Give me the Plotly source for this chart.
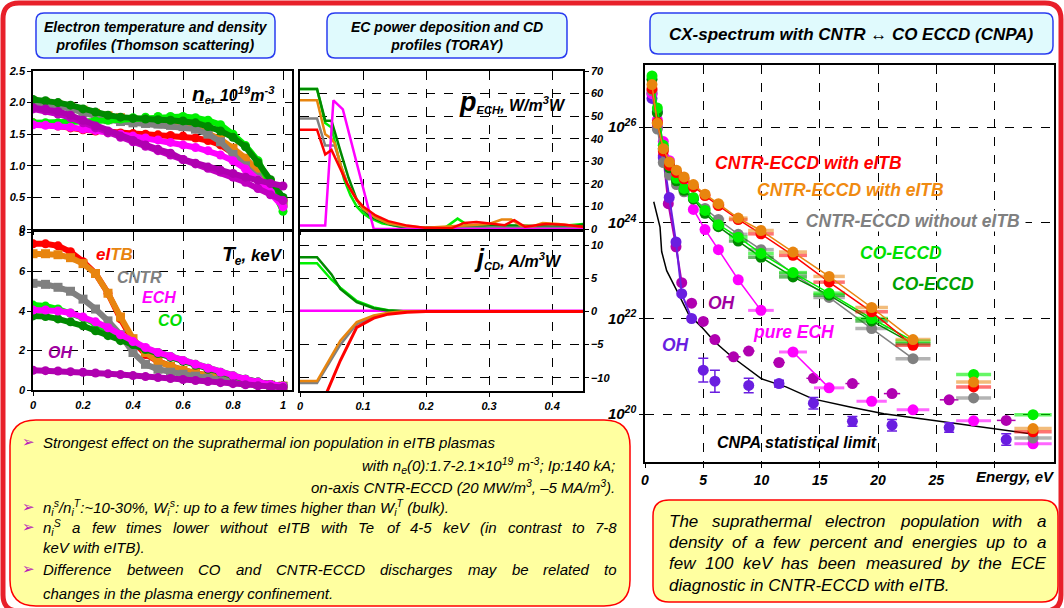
import plotly.graph_objects as go

W, H = 1064, 608
FONT = "Liberation Sans, Arial, sans-serif"

# ---------------- data: Thomson profiles ----------------
rho = [0.0, 0.05, 0.1, 0.15, 0.2, 0.25, 0.3, 0.35, 0.4, 0.45, 0.5,
       0.55, 0.6, 0.65, 0.7, 0.75, 0.8, 0.85, 0.9, 0.95, 1.0]

ne_red = [1.68, 1.66, 1.63, 1.6, 1.57, 1.55, 1.53, 1.52, 1.51, 1.5, 1.49, 1.48, 1.47, 1.44, 1.4, 1.33, 1.2, 1.05, 0.85, 0.62, 0.45]
ne_orange = [2.02, 2.0, 1.97, 1.93, 1.88, 1.83, 1.79, 1.76, 1.73, 1.71, 1.69, 1.67, 1.65, 1.6, 1.52, 1.42, 1.28, 1.12, 0.92, 0.68, 0.42]
ne_gray = [2.0, 1.98, 1.95, 1.9, 1.84, 1.78, 1.73, 1.7, 1.68, 1.67, 1.66, 1.64, 1.62, 1.58, 1.5, 1.38, 1.18, 1.0, 0.82, 0.62, 0.4]
ne_lime = [1.68, 1.68, 1.68, 1.69, 1.7, 1.71, 1.72, 1.74, 1.76, 1.77, 1.78, 1.78, 1.78, 1.76, 1.72, 1.65, 1.5, 1.32, 1.08, 0.7, 0.28]
ne_dgreen = [2.05, 2.03, 2.0, 1.96, 1.9, 1.85, 1.8, 1.77, 1.75, 1.74, 1.73, 1.72, 1.71, 1.68, 1.62, 1.55, 1.45, 1.3, 1.05, 0.78, 0.5]
ne_magenta = [1.65, 1.64, 1.63, 1.61, 1.58, 1.56, 1.53, 1.5, 1.47, 1.44, 1.41, 1.37, 1.33, 1.29, 1.24, 1.17, 1.08, 0.95, 0.78, 0.58, 0.35]
ne_purple1 = [1.92, 1.9, 1.86, 1.8, 1.72, 1.63, 1.55, 1.47, 1.4, 1.33, 1.26, 1.2, 1.1, 1.04, 0.98, 0.93, 0.88, 0.82, 0.77, 0.72, 0.68]
ne_purple2 = [1.9, 1.87, 1.82, 1.76, 1.68, 1.6, 1.52, 1.45, 1.38, 1.31, 1.24, 1.17, 1.1, 1.03, 0.96, 0.9, 0.82, 0.74, 0.64, 0.54, 0.45]

te_red = [7.4, 7.4, 7.3, 7.0, 6.5, 5.9, 4.9, 3.6, 2.5, 1.8, 1.45, 1.2, 1.0, 0.85, 0.72, 0.6, 0.5, 0.4, 0.32, 0.25, 0.2]
te_orange = [6.9, 6.9, 6.85, 6.7, 6.4, 5.9, 4.9, 3.7, 2.6, 1.9, 1.45, 1.2, 1.0, 0.85, 0.72, 0.6, 0.5, 0.4, 0.32, 0.25, 0.2]
te_gray = [5.4, 5.35, 5.2, 5.0, 4.6, 4.1, 3.5, 2.8, 1.9, 1.3, 1.05, 0.9, 0.8, 0.7, 0.6, 0.5, 0.42, 0.35, 0.28, 0.22, 0.18]
te_lime = [4.3, 4.25, 4.1, 3.9, 3.65, 3.35, 3.0, 2.65, 2.35, 2.1, 1.9, 1.7, 1.5, 1.3, 1.1, 0.9, 0.72, 0.55, 0.4, 0.28, 0.2]
te_dgreen = [3.75, 3.72, 3.6, 3.45, 3.25, 3.0, 2.75, 2.5, 2.3, 2.05, 1.85, 1.65, 1.45, 1.25, 1.05, 0.88, 0.7, 0.55, 0.4, 0.28, 0.2]
te_magenta = [4.05, 4.05, 4.0, 3.9, 3.7, 3.45, 3.15, 2.8, 2.45, 2.15, 1.9, 1.7, 1.5, 1.3, 1.1, 0.9, 0.72, 0.55, 0.4, 0.28, 0.2]
te_oh = [1.0, 0.98, 0.96, 0.93, 0.9, 0.86, 0.82, 0.78, 0.73, 0.68, 0.63, 0.58, 0.53, 0.48, 0.43, 0.37, 0.32, 0.26, 0.21, 0.17, 0.13]

# ---------------- data: TORAY ----------------
pe_rho_dg = [0, 0.027, 0.04, 0.05, 0.064, 0.077, 0.09, 0.1, 0.11, 0.122, 0.144, 0.16, 0.2, 0.25, 0.3, 0.35, 0.4, 0.43, 0.45]
pe_dg = [62, 62, 48, 48, 34.6, 22.7, 13, 8.6, 6, 4.2, 2, 1, 0.5, 0.8, 1.5, 1.5, 1, 1, 2]
pe_rho_lime = [0, 0.027, 0.04, 0.05, 0.06, 0.07, 0.08, 0.09, 0.1, 0.11, 0.13, 0.16, 0.2, 0.23, 0.25, 0.27, 0.3, 0.33, 0.36, 0.4, 0.45]
pe_lime = [62, 62, 47, 45, 33, 22, 15, 10, 7, 5, 2.5, 1, 0.5, 0.5, 4.6, 1, 2, 1.5, 1, 1, 2.2]
pe_rho_or = [0, 0.027, 0.04, 0.05, 0.055, 0.065, 0.075, 0.09, 0.1, 0.12, 0.14, 0.17, 0.2, 0.25, 0.3, 0.32, 0.335, 0.35, 0.37, 0.385, 0.41, 0.45]
pe_or = [57, 57, 42, 40, 38, 28, 20, 13, 9, 5, 2.5, 1.2, 0.5, 1.2, 2.2, 4.2, 4.2, 1.5, 1.2, 2.7, 2.2, 0.9]
pe_rho_gr = [0, 0.027, 0.04, 0.055, 0.065, 0.075, 0.09, 0.1, 0.12, 0.14, 0.17, 0.2, 0.3, 0.45]
pe_gr = [49, 49, 37, 37, 28, 20, 13, 9, 5, 2.5, 1, 0.5, 0.5, 0.5]
pe_rho_red = [0, 0.027, 0.04, 0.05, 0.065, 0.075, 0.09, 0.1, 0.12, 0.14, 0.17, 0.2, 0.24, 0.26, 0.28, 0.31, 0.325, 0.34, 0.357, 0.39, 0.42, 0.45]
pe_red = [44, 44, 33, 35, 26, 20, 13, 10, 6, 3.5, 1.5, 0.5, 0.3, 2.7, 3.1, 2, 1.7, 3.9, 1, 2.2, 1.9, 1]
pe_rho_mag = [0, 0.04, 0.053, 0.068, 0.117, 0.45]
pe_mag = [1.5, 1.5, 57, 53, 0, 0]

jc_rho_g = [0, 0.027, 0.05, 0.064, 0.09, 0.117, 0.14, 0.17, 0.45]
jc_dg = [8.2, 8.2, 5.6, 3.4, 1.4, 0.5, 0.15, 0, 0]
jc_lime = [7.3, 7.3, 4.8, 3.6, 1.6, 0.6, 0.2, 0, 0]
jc_rho_or = [0, 0.027, 0.064, 0.09, 0.117, 0.14, 0.16, 0.45]
jc_or = [-10.5, -10.5, -4.4, -1.6, -0.6, -0.2, 0, 0]
jc_rho_gr = [0, 0.027, 0.064, 0.09, 0.117, 0.14, 0.17, 0.45]
jc_gr = [-10.8, -10.8, -5.0, -1.9, -0.8, -0.3, 0, 0]
jc_rho_red = [0.035, 0.043, 0.064, 0.09, 0.117, 0.14, 0.17, 0.2, 0.45]
jc_red = [-13, -12.1, -7.4, -2.4, -1.0, -0.4, -0.1, 0, 0]
jc_rho_mag = [0, 0.45]
jc_mag = [0.1, 0.1]

# ---------------- data: CX spectrum (log10 of flux) ----------------
cx_E = [0.6, 1.06, 1.57, 2.1, 2.7, 3.35, 4.15, 5.15, 6.3, 8.0, 9.95, 12.7, 15.8, 19.45, 23.0]
cx_dE = [0, 0, 0, 0, 0, 0, 0, 0, 0.5, 0.8, 1.1, 1.2, 1.35, 1.4, 1.5]
cx_E_far = [28.2, 33.3]
cx_dE_far = [1.5, 1.6]
red_log = [26.8, 26.1, 25.5, 25.2, 25.05, 24.92, 24.75, 24.57, 24.36, 24.07, 23.77, 23.32, 22.76, 22.14, 21.44]
red_far = [20.57, 19.63]
orange_log = [26.89, 26.08, 25.55, 25.27, 25.1, 24.96, 24.8, 24.6, 24.4, 24.1, 23.84, 23.39, 22.88, 22.23, 21.56]
orange_far = [20.67, 19.70]
gray_log = [26.76, 25.96, 25.26, 25.0, 24.8, 24.65, 24.5, 24.3, 24.07, 23.76, 23.44, 22.94, 22.44, 21.79, 21.16]
gray_far = [20.34, 19.5]
lime_log = [27.07, 26.4, 25.62, 25.2, 24.93, 24.72, 24.53, 24.26, 23.96, 23.7, 23.36, 22.96, 22.53, 22.0, 21.53]
lime_far = [20.83, 19.99]
dgreen_log = [27.0, 26.3, 25.55, 25.15, 24.88, 24.68, 24.5, 24.2, 23.92, 23.62, 23.28, 22.87, 22.49, 21.95, 21.47]

ech_E = [0.6, 1.06, 1.57, 2.1, 2.7, 3.35, 4.15, 5.15, 6.3, 8.0, 9.95, None, 12.7, 15.8]
ech_log = [26.7, 26.15, 25.7, 25.3, 25.0, 24.78, 24.28, 23.86, 23.44, 22.81, 22.17, None, 21.3, 20.55]
ech_dE = [0, 0, 0, 0, 0, 0, 0, 0, 0, 0, 1.1, 0, 1.2, 1.3]
ech_far_E = [19.45, 23.0, 28.2, 33.3]
ech_far_log = [20.27, 20.09, 19.86, 19.38]
ech_far_dE = [1.3, 1.4, 1.5, 1.6]

ohv_E = [0.6, 1.06, 1.57, 2.08, 2.66, 3.15, 4.0]
ohv_log = [26.6, 26.33, 25.36, 24.53, 23.6, 22.52, 22.0]
ohv2_E = [5.0, 6.0, 8.9, 11.5, 14.45, 17.8, 21.2, 26.1, 31.0]
ohv2_log = [20.92, 20.69, 20.6, 20.64, 20.23, 19.85, 19.77, 19.72, 19.47]
ohv2_dlog = [0.25, 0.23, 0.15, 0.07, 0.12, 0.1, 0.12, 0.1, 0.12]

ohp_E = [0.6, 1.06, 1.57, 2.0, 2.66, 3.15]
ohp_log = [26.7, 26.0, 25.4, 24.4, 23.5, 22.75]
ohp2_E = [4.0, 5.0, 6.0, 7.6, 8.9, 11.5, 14.45, 17.8, 21.2, 26.1, 31.0]
ohp2_log = [22.32, 21.94, 21.56, 21.2, 21.32, 21.08, 20.75, 20.64, 20.43, 20.3, 19.87]
ohp2_dE = [0, 0, 0, 0.6, 0.5, 0.5, 0.6, 0.6, 0.7, 0.8, 0.8]

cnpa_E = [0.75, 1.29, 1.43, 1.86, 2.72, 3.72, 4.86, 6.0, 7.4, 8.6, 10, 12.1, 14.4, 17.6, 20.5, 24.8, 29.1, 33.1]
cnpa_log = [24.44, 23.91, 23.4, 23.0, 22.59, 22.1, 21.82, 21.51, 21.21, 20.99, 20.74, 20.57, 20.32, 20.15, 20.01, 19.87, 19.73, 19.59]

# ---------------- colours ----------------
C_RED = "#ff0000"
C_OR = "#e8850f"
C_GR = "#808080"
C_LIME = "#00f000"
C_DG = "#008a00"
C_MAG = "#ff00ff"
C_PUR = "#b000b0"
C_VIO = "#6a1ee0"


def X(px):
    return px / W


def Y(py):
    return 1 - py / H


def pw(v):
    return [None if a is None else 10 ** a for a in v]


fig = go.Figure()


def add(x, y, xa, ya, color, width=2.5, marker=None, err_x=None, err_y=None, mode="lines"):
    kw = dict(x=x, y=y, xaxis=xa, yaxis=ya, mode=mode, showlegend=False,
              line=dict(color=color, width=width), hoverinfo="skip")
    if marker:
        kw["marker"] = marker
    if err_x is not None:
        kw["error_x"] = err_x
    if err_y is not None:
        kw["error_y"] = err_y
    fig.add_trace(go.Scatter(**kw))


# profiles
prof = [
    (ne_red, te_red, C_RED, "circle"),
    (ne_orange, te_orange, C_OR, "square"),
    (ne_gray, te_gray, C_GR, "square"),
    (ne_lime, te_lime, C_LIME, "circle"),
    (ne_dgreen, te_dgreen, C_DG, "circle"),
    (ne_magenta, te_magenta, C_MAG, "circle"),
]
for ne, te, c, s in prof:
    add(rho, ne, "x", "y", c, 6, dict(color=c, size=9, symbol=s), mode="lines+markers")
add(rho, ne_purple2, "x", "y", "#c000c0", 6, dict(color="#c000c0", size=9), mode="lines+markers")
add(rho, ne_purple1, "x", "y", C_PUR, 6, dict(color=C_PUR, size=9), mode="lines+markers")
for ne, te, c, s in prof:
    add(rho, te, "x2", "y2", c, 6, dict(color=c, size=9, symbol=s), mode="lines+markers")
add(rho, te_oh, "x2", "y2", C_PUR, 6, dict(color=C_PUR, size=9), mode="lines+markers")

# TORAY
add(pe_rho_lime, pe_lime, "x3", "y3", C_LIME)
add(pe_rho_dg, pe_dg, "x3", "y3", C_DG)
add(pe_rho_gr, pe_gr, "x3", "y3", C_GR)
add(pe_rho_or, pe_or, "x3", "y3", C_OR)
add(pe_rho_mag, pe_mag, "x3", "y3", C_MAG)
add(pe_rho_red, pe_red, "x3", "y3", C_RED)

add(jc_rho_mag, jc_mag, "x4", "y4", C_MAG)
add(jc_rho_g, jc_lime, "x4", "y4", C_LIME)
add(jc_rho_g, jc_dg, "x4", "y4", C_DG)
add(jc_rho_gr, jc_gr, "x4", "y4", C_GR)
add(jc_rho_or, jc_or, "x4", "y4", C_OR)
add(jc_rho_red, jc_red, "x4", "y4", C_RED, 3)

# CX spectrum
MS = 11
add(cnpa_E, pw(cnpa_log), "x5", "y5", "black", 1.5)
add(ohp_E, pw(ohp_log), "x5", "y5", C_PUR, 2, dict(color=C_PUR, size=MS), mode="lines+markers")
add(ohp2_E, pw(ohp2_log), "x5", "y5", C_PUR, 2, dict(color=C_PUR, size=MS), mode="markers",
    err_x=dict(type="data", array=ohp2_dE, color=C_PUR, thickness=1.5, width=0))
add(ohv_E, pw(ohv_log), "x5", "y5", C_VIO, 2, dict(color=C_VIO, size=MS), mode="lines+markers")
ohv_up = [10 ** (v + d) - 10 ** v for v, d in zip(ohv2_log, ohv2_dlog)]
ohv_dn = [10 ** v - 10 ** (v - d) for v, d in zip(ohv2_log, ohv2_dlog)]
add(ohv2_E, pw(ohv2_log), "x5", "y5", C_VIO, 2, dict(color=C_VIO, size=MS), mode="markers",
    err_y=dict(type="data", array=ohv_up, arrayminus=ohv_dn, color=C_VIO, thickness=1.5, width=5))
add(ech_E, pw(ech_log), "x5", "y5", C_MAG, 1.5, dict(color=C_MAG, size=MS), mode="lines+markers",
    err_x=dict(type="data", array=ech_dE, color="rgba(255,0,255,0.6)", thickness=3, width=0))
add(ech_far_E, pw(ech_far_log), "x5", "y5", C_MAG, 1.5, dict(color=C_MAG, size=MS), mode="markers",
    err_x=dict(type="data", array=ech_far_dE, color="rgba(255,0,255,0.6)", thickness=3, width=0))

main = [
    (gray_log, gray_far, C_GR, "rgba(128,128,128,0.6)"),
    (dgreen_log, None, C_DG, "rgba(0,138,0,0.6)"),
    (lime_log, lime_far, C_LIME, "rgba(0,240,0,0.6)"),
    (red_log, red_far, C_RED, "rgba(255,0,0,0.55)"),
    (orange_log, orange_far, C_OR, "rgba(232,133,15,0.55)"),
]
for lg, far, c, ce in main:
    add(cx_E, pw(lg), "x5", "y5", c, 1.5, dict(color=c, size=MS), mode="lines+markers",
        err_x=dict(type="data", array=cx_dE, color=ce, thickness=3.5, width=0))
    if far:
        add(cx_E_far, pw(far), "x5", "y5", c, 1.5, dict(color=c, size=MS), mode="markers",
            err_x=dict(type="data", array=cx_dE_far, color=ce, thickness=3.5, width=0))

# ---------------- axes ----------------
BOX = {
    "1": (33, 292, 71, 229),
    "2": (33, 292, 232, 390),
    "3": (300, 583, 71, 229),
    "4": (300, 583, 232, 391),
    "5": (645, 1054, 65, 462),
}


def dx(k):
    b = BOX[k]
    return [b[0] / W, b[1] / W]


def dy(k):
    b = BOX[k]
    return [1 - b[3] / H, 1 - b[2] / H]


def axs(size=11, **kw):
    d = dict(showline=True, mirror=True, linecolor="black", linewidth=1.5,
             showgrid=True, gridcolor="black", gridwidth=1, griddash="dash",
             zeroline=False, ticks="outside", ticklen=4, tickcolor="black",
             tickfont=dict(family=FONT, size=size, color="black", weight="bold", style="italic"))
    d.update(kw)
    return d


lx_vals = [0, 0.2, 0.4, 0.6, 0.8, 1.0]
lx_text = ["0", "0.2", "0.4", "0.6", "0.8", "1"]
mx_vals = [0, 0.1, 0.2, 0.3, 0.4]
mx_text = ["0", "0.1", "0.2", "0.3", "0.4"]

fig.update_layout(
    width=W, height=H, margin=dict(l=0, r=0, t=0, b=0, autoexpand=False),
    paper_bgcolor="white", plot_bgcolor="white", showlegend=False, hovermode=False,
    xaxis=axs(domain=dx("1"), anchor="y", range=[0, 1.036], tickvals=lx_vals, showticklabels=False),
    yaxis=axs(domain=dy("1"), anchor="x", range=[0, 2.5], tickvals=[0, 0.5, 1, 1.5, 2, 2.5],
              ticktext=["0", "0.5", "1.0", "1.5", "2.0", "2.5"]),
    xaxis2=axs(domain=dx("2"), anchor="y2", range=[0, 1.036], tickvals=lx_vals, ticktext=lx_text),
    yaxis2=axs(domain=dy("2"), anchor="x2", range=[0, 8], tickvals=[0, 2, 4, 6, 8]),
    xaxis3=axs(domain=dx("3"), anchor="y3", range=[0, 0.449], tickvals=mx_vals, showticklabels=False),
    yaxis3=axs(domain=dy("3"), anchor="x3", range=[0, 70], side="right",
               tickvals=[0, 10, 20, 30, 40, 50, 60, 70]),
    xaxis4=axs(domain=dx("4"), anchor="y4", range=[0, 0.449], tickvals=mx_vals, ticktext=mx_text),
    yaxis4=axs(domain=dy("4"), anchor="x4", range=[-12, 12], side="right",
               tickvals=[-10, -5, 0, 5, 10]),
    xaxis5=axs(size=14, domain=dx("5"), anchor="y5", range=[0, 35.1],
               tickvals=[0, 5, 10, 15, 20, 25, 30], ticktext=["0", "5", "10", "15", "20", "25", ""]),
    yaxis5=axs(size=15, domain=dy("5"), anchor="x5", type="log", range=[19.0, 27.3],
               tickvals=[1e20, 1e22, 1e24, 1e26],
               ticktext=["10<sup>20</sup>", "10<sup>22</sup>", "10<sup>24</sup>", "10<sup>26</sup>"]),
)


# ---------------- decorations ----------------
def rrect(x0, y0, x1, y1, r):
    def p(a, b):
        return f"{X(a):.5f},{Y(b):.5f}"
    return (f"M {p(x0 + r, y0)} L {p(x1 - r, y0)} Q {p(x1, y0)} {p(x1, y0 + r)} "
            f"L {p(x1, y1 - r)} Q {p(x1, y1)} {p(x1 - r, y1)} L {p(x0 + r, y1)} "
            f"Q {p(x0, y1)} {p(x0, y1 - r)} L {p(x0, y0 + r)} Q {p(x0, y0)} {p(x0 + r, y0)} Z")


def box(x0, y0, x1, y1, r, fill, line, lw=1.5):
    fig.add_shape(type="path", path=rrect(x0, y0, x1, y1, r), xref="paper", yref="paper",
                  fillcolor=fill, line=dict(color=line, width=lw), layer="below")


# outer slide frame
fig.add_shape(type="path", path=rrect(3, 3, 1061, 611, 16), xref="paper", yref="paper",
              fillcolor="rgba(0,0,0,0)", line=dict(color="#e8202a", width=5), layer="above")

CYAN = "#e0fafd"
BLUE = "#2a3cf0"
box(36, 13, 275, 58, 8, CYAN, BLUE)
box(327, 13, 567, 58, 8, CYAN, BLUE)
box(650, 13, 1053, 54, 8, CYAN, BLUE)
YEL = "#ffffa0"
box(10, 420, 630, 606, 26, YEL, "#ff0000")
box(653, 500, 1058, 602, 16, YEL, "#ff0000")


def ann(px, py, text, size, color="black", xanchor="center", family=FONT, bg=None):
    fig.add_annotation(x=X(px), y=Y(py), xref="paper", yref="paper", text=text, showarrow=False,
                       xanchor=xanchor, yanchor="middle", align="center",
                       font=dict(family=family, size=size, color=color),
                       bgcolor=bg, borderpad=0)


def bi(t):
    return f"<b><i>{t}</i></b>"


ann(155.5, 35.5, bi("Electron temperature and density<br>profiles (Thomson scattering)"), 14)
ann(447, 35.5, bi("EC power deposition and CD<br>profiles (TORAY)"), 14)
ann(851, 34, bi("CX-spectrum with CNTR \u2194 CO ECCD (CNPA)"), 17)

# panel labels
ann(233, 94, bi('<span style="font-size:21px">n</span><sub>e</sub>, 10<sup>19</sup>m<sup>-3</sup>'), 16)
ann(252, 255, bi('<span style="font-size:21px">T</span><sub>e</sub>, keV'), 17)
ann(512, 102, bi('<span style="font-size:27px">p</span><sub>ECH</sub>, W/m<sup>3</sup>W'), 16)
ann(518, 258, bi('<span style="font-size:25px">j</span><sub>CD</sub>, A/m<sup>3</sup>W'), 16)

ann(114, 254, bi('<span style="color:#ff0000">eI</span><span style="color:#e8850f">TB</span>'), 17)
ann(139, 277, bi("CNTR"), 16, C_GR)
ann(159, 298, bi("ECH"), 16, C_MAG)
ann(170, 320, bi("CO"), 16, "#00dd00")
ann(60, 352, bi("OH"), 16, "#a000a0")

# CX labels
ann(808, 163, bi("CNTR-ECCD with eITB"), 17.5, C_RED)
ann(850, 190, bi("CNTR-ECCD with eITB"), 17.5, "#f08a10")
ann(913, 221, bi(" CNTR-ECCD without eITB "), 17.5, C_GR, bg="white")
ann(901, 253, bi("CO-ECCD"), 17.5, "#00e000")
ann(933, 284, bi("CO-ECCD"), 17.5, "#00a000")
ann(721, 303, bi("OH"), 17.5, "#a000a0")
ann(793, 332, bi("pure ECH"), 17.5, C_MAG)
ann(675, 345, bi("OH"), 17.5, C_VIO)
ann(797, 443, bi("CNPA statistical limit"), 16)
ann(1015, 476, bi("Energy, eV"), 15)

# ---------------- text boxes ----------------
HW = dict(zip("abcdefghijklmnopqrstuvwxyz",
              [556, 556, 500, 556, 556, 278, 556, 556, 222, 222, 500, 222, 833, 556, 556, 556, 556, 333,
               500, 278, 556, 500, 722, 500, 500, 500]))
HW.update(zip("ABCDEFGHIJKLMNOPQRSTUVWXYZ",
              [667, 667, 722, 722, 667, 611, 778, 722, 278, 500, 667, 556, 833, 722, 778, 667, 778, 722,
               667, 611, 722, 667, 944, 667, 667, 611]))
HW.update({d: 556 for d in "0123456789"})
HW.update({" ": 278, ".": 278, ",": 278, "-": 333, "(": 333, ")": 333, ":": 278, ";": 278, "%": 889,
           "~": 584, "/": 278})


def tw(s, size):
    return sum(HW.get(c, 556) for c in s) * size / 1000.0


def justify(words, x0, x1, py, size):
    ws = [tw(p, size) for _, p in words]
    gap = (x1 - x0 - sum(ws)) / (len(words) - 1)
    x = x0
    for (h, _), w in zip(words, ws):
        ann(x, py, f"<i>{h}</i>", size, xanchor="left")
        x += w + gap


def plain_words(s):
    return [(w, w) for w in s.split(" ")]


ARROW = '<span style="font-family:DejaVu Sans">\u27a2</span>'
for py in (442, 507, 527, 569):
    ann(28, py, ARROW, 15, "#b81cb8")

TS = 15
ann(42, 442, "<i>Strongest effect on the suprathermal ion population in eITB plasmas</i>", TS, xanchor="left")
ann(616, 465, "<i>with n<sub>e</sub>(0):1.7-2.1\u00d710<sup>19</sup> m<sup>-3</sup>; Ip:140 kA;</i>", TS,
    xanchor="right")
ann(616, 486, "<i>on-axis CNTR-ECCD (20 MW/m<sup>3</sup>, \u20135 MA/m<sup>3</sup>).</i>", TS, xanchor="right")
ann(42, 507, "<i>n<sub>i</sub><sup>s</sup>/n<sub>i</sub><sup>T</sup>:~10-30%, W<sub>i</sub><sup>s</sup>: "
             "up to a few times higher than W<sub>i</sub><sup>T</sup> (bulk).</i>", TS, xanchor="left")
justify([("n<sub>i</sub><sup>S</sup>", "nS")] +
        plain_words("a few times lower without eITB with Te of 4-5 keV (in contrast to 7-8"),
        42, 616, 527, TS)
ann(42, 547, "<i>keV with eITB).</i>", TS, xanchor="left")
justify(plain_words("Difference between CO and CNTR-ECCD discharges may be related to"), 42, 616, 569, TS)
ann(42, 593, "<i>changes in the plasma energy confinement.</i>", TS, xanchor="left")

RS = 17
justify(plain_words("The suprathermal electron population with a"), 668, 1045, 521, RS)
justify(plain_words("density of a few percent and energies up to a"), 668, 1045, 542, RS)
justify(plain_words("few 100 keV has been measured by the ECE"), 668, 1045, 563, RS)
ann(668, 585, "<i>diagnostic in CNTR-ECCD with eITB.</i>", RS, xanchor="left")

fig.write_html("out.html", config={"displayModeBar": False},
               post_script="document.body.style.margin='0px';document.body.style.overflow='hidden';")
